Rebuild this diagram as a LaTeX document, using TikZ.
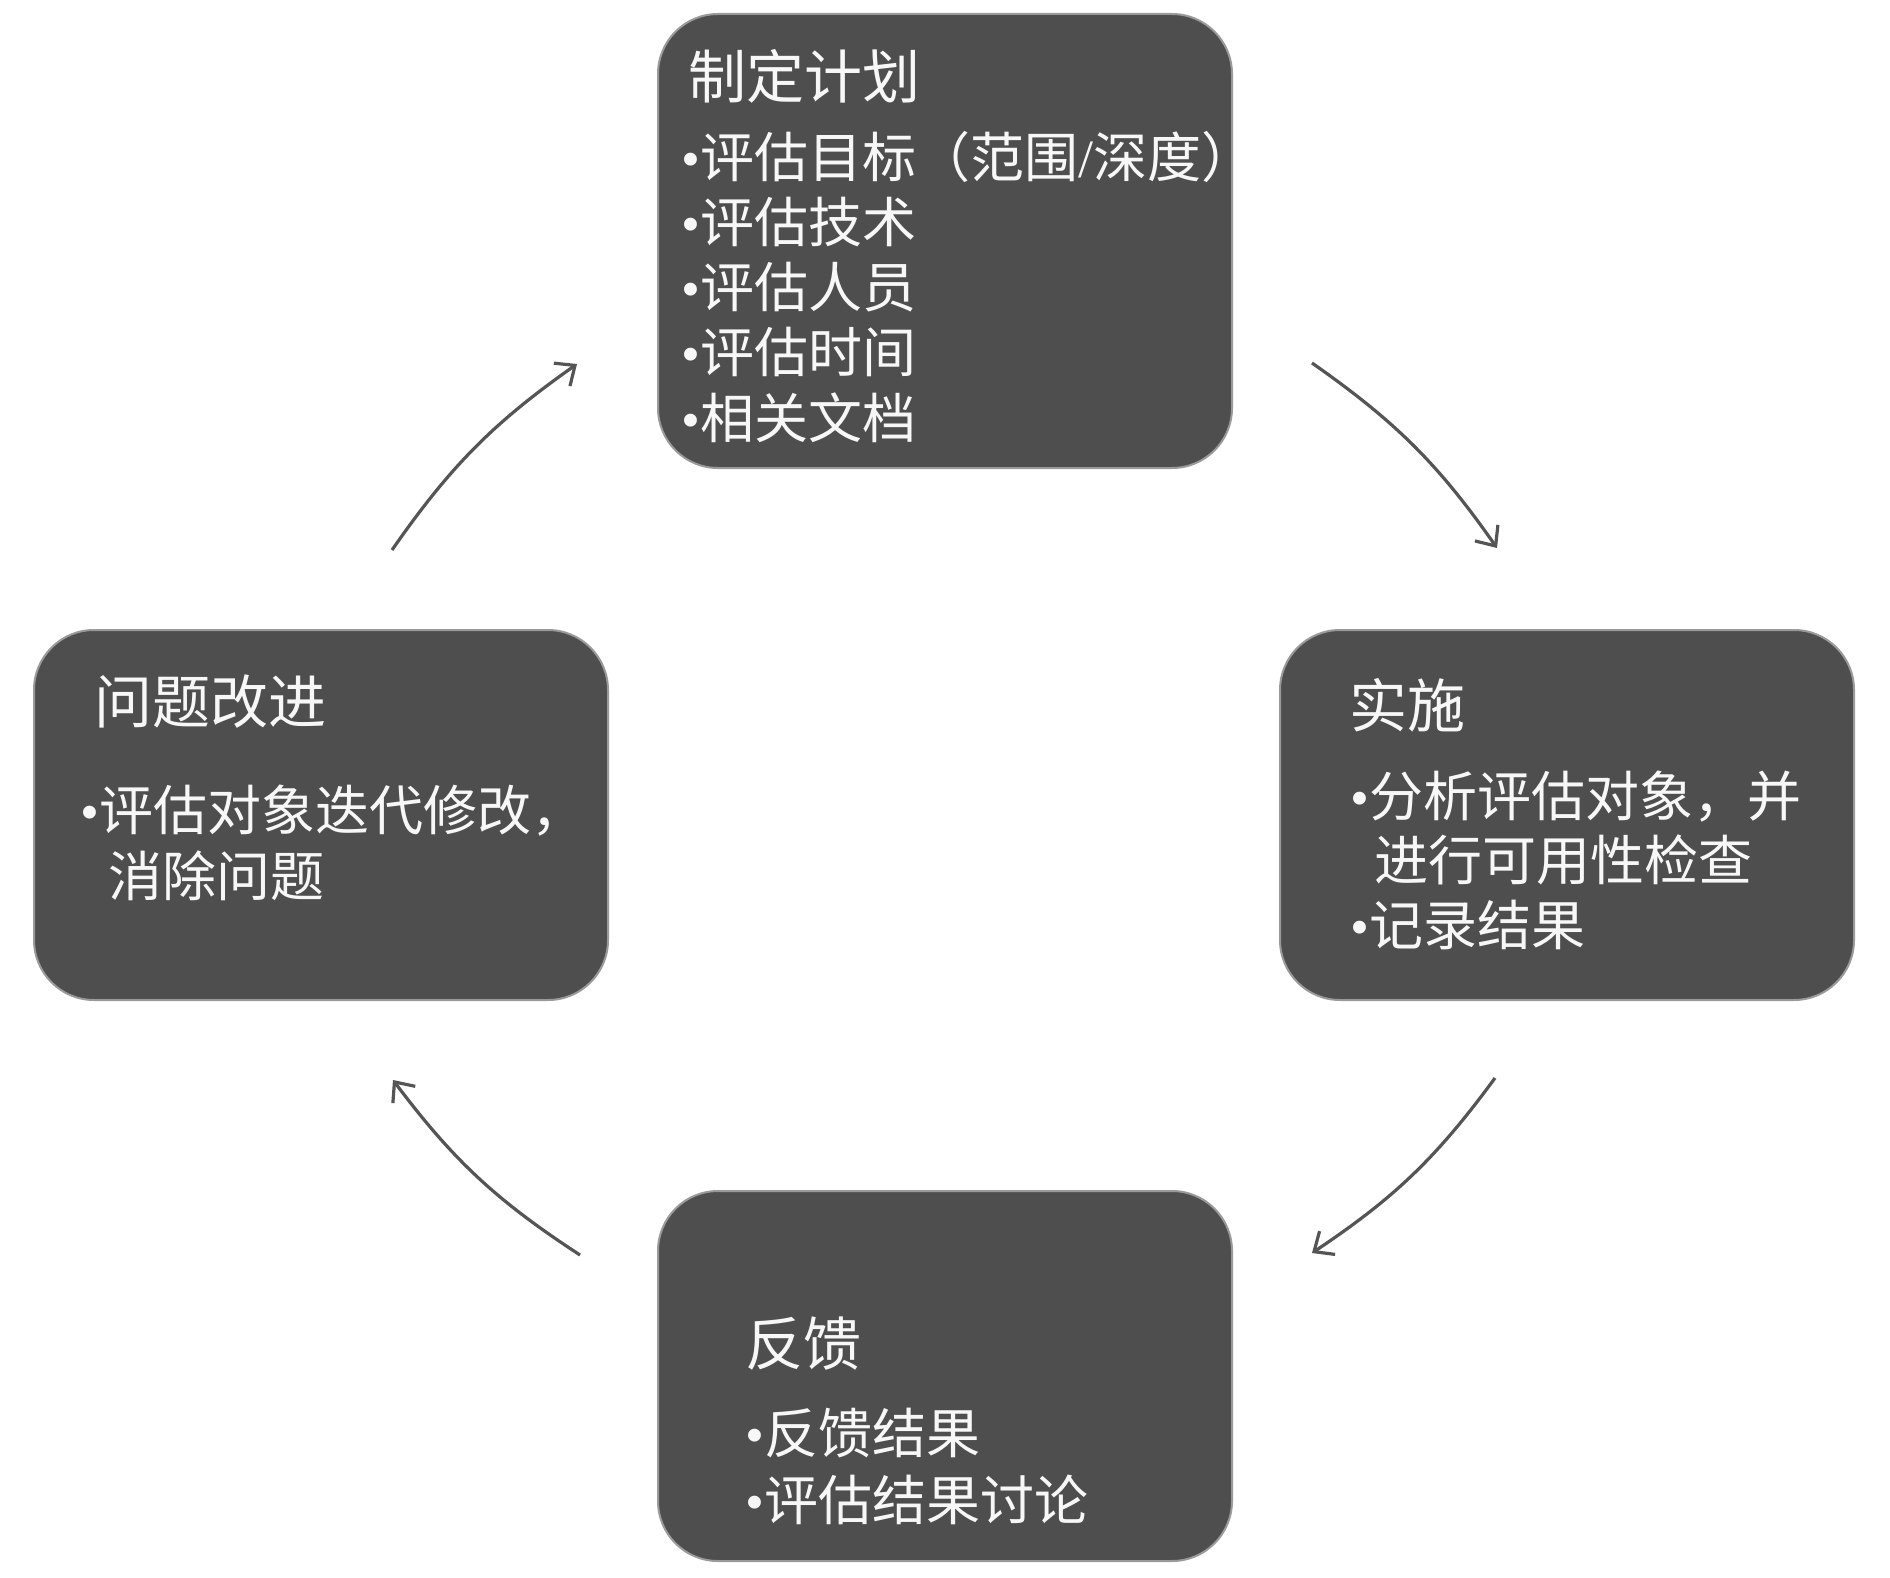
\documentclass[tikz,border=0pt]{standalone}
\usepackage{fontspec}
\setmainfont{Liberation Serif}
\newfontfamily\cjk{Noto Sans CJK SC}
\usetikzlibrary{arrows.meta}
\definecolor{boxfill}{HTML}{4E4E4E}
\definecolor{boxedge}{HTML}{9A9A9A}
\definecolor{arrowc}{HTML}{555555}
\definecolor{txt}{HTML}{F7F7F7}
\tikzset{
  stagebox/.style={draw=boxedge, line width=1pt, fill=boxfill, rounded corners=30pt, inner sep=0pt},
  hbox/.style={stagebox, minimum width=287pt, minimum height=227pt},
  sbox/.style={stagebox, minimum width=287pt, minimum height=185pt},
  ttl/.style={anchor=west, inner sep=0pt, text=txt, font=\cjk\fontsize{29}{34}\selectfont},
  itm/.style={anchor=west, inner sep=0pt, text=txt, font=\cjk\fontsize{27}{32}\selectfont},
  flow/.style={draw=arrowc, line width=1.6pt, -{Straight Barb[length=8pt,width=14pt,line width=1.6pt]}, bend left=10}
}
\newcommand{\bul}{{\rmfamily •}}
\begin{document}
\begin{tikzpicture}[x=0.5pt,y=-0.5pt]
\useasboundingbox (0,0) rectangle (1890,1578);
% boxes
\node[hbox] (plan) at (945,241) {};
\node[sbox] (impl) at (1567,815) {};
\node[sbox] (feed) at (945,1376) {};
\node[sbox] (impr) at (321,815) {};
% plan text
\node[ttl] (planT) at (688,76) {制定计划};
\node[itm] (plan1) at (681,157) {\bul 评估目标（范围{\rmfamily /}深度）};
\node[itm] (plan2) at (681,222) {\bul 评估技术};
\node[itm] (plan3) at (681,287) {\bul 评估人员};
\node[itm] (plan4) at (681,352) {\bul 评估时间};
\node[itm] (plan5) at (681,418) {\bul 相关文档};
% impl text
\node[ttl] (implT) at (1349,705) {实施};
\node[itm] (impl1) at (1350,797) {\bul 分析评估对象，并};
\node[itm] (impl2) at (1374,860) {进行可用性检查};
\node[itm] (impl3) at (1350,925) {\bul 记录结果};
% feedback text
\node[ttl] (feedT) at (745,1344) {反馈};
\node[itm] (feed1) at (745,1433) {\bul 反馈结果};
\node[itm] (feed2) at (745,1500) {\bul 评估结果讨论};
% improvement text
\node[ttl] (imprT) at (94,702) {问题改进};
\node[itm] (impr1) at (80,811) {\bul 评估对象迭代修改，};
\node[itm] (impr2) at (108,876) {消除问题};
% arrow endpoints
\coordinate (a1s) at (1312,363);
\coordinate (a1e) at (1497,548);
\coordinate (a2s) at (1495,1078);
\coordinate (a2e) at (1312,1253);
\coordinate (a3s) at (580,1255);
\coordinate (a3e) at (393,1080);
\coordinate (a4s) at (392,550);
\coordinate (a4e) at (577,364);
\draw[flow] (a1s) to (a1e);
\draw[flow] (a2s) to (a2e);
\draw[flow] (a3s) to (a3e);
\draw[flow] (a4s) to (a4e);
\end{tikzpicture}
\end{document}
